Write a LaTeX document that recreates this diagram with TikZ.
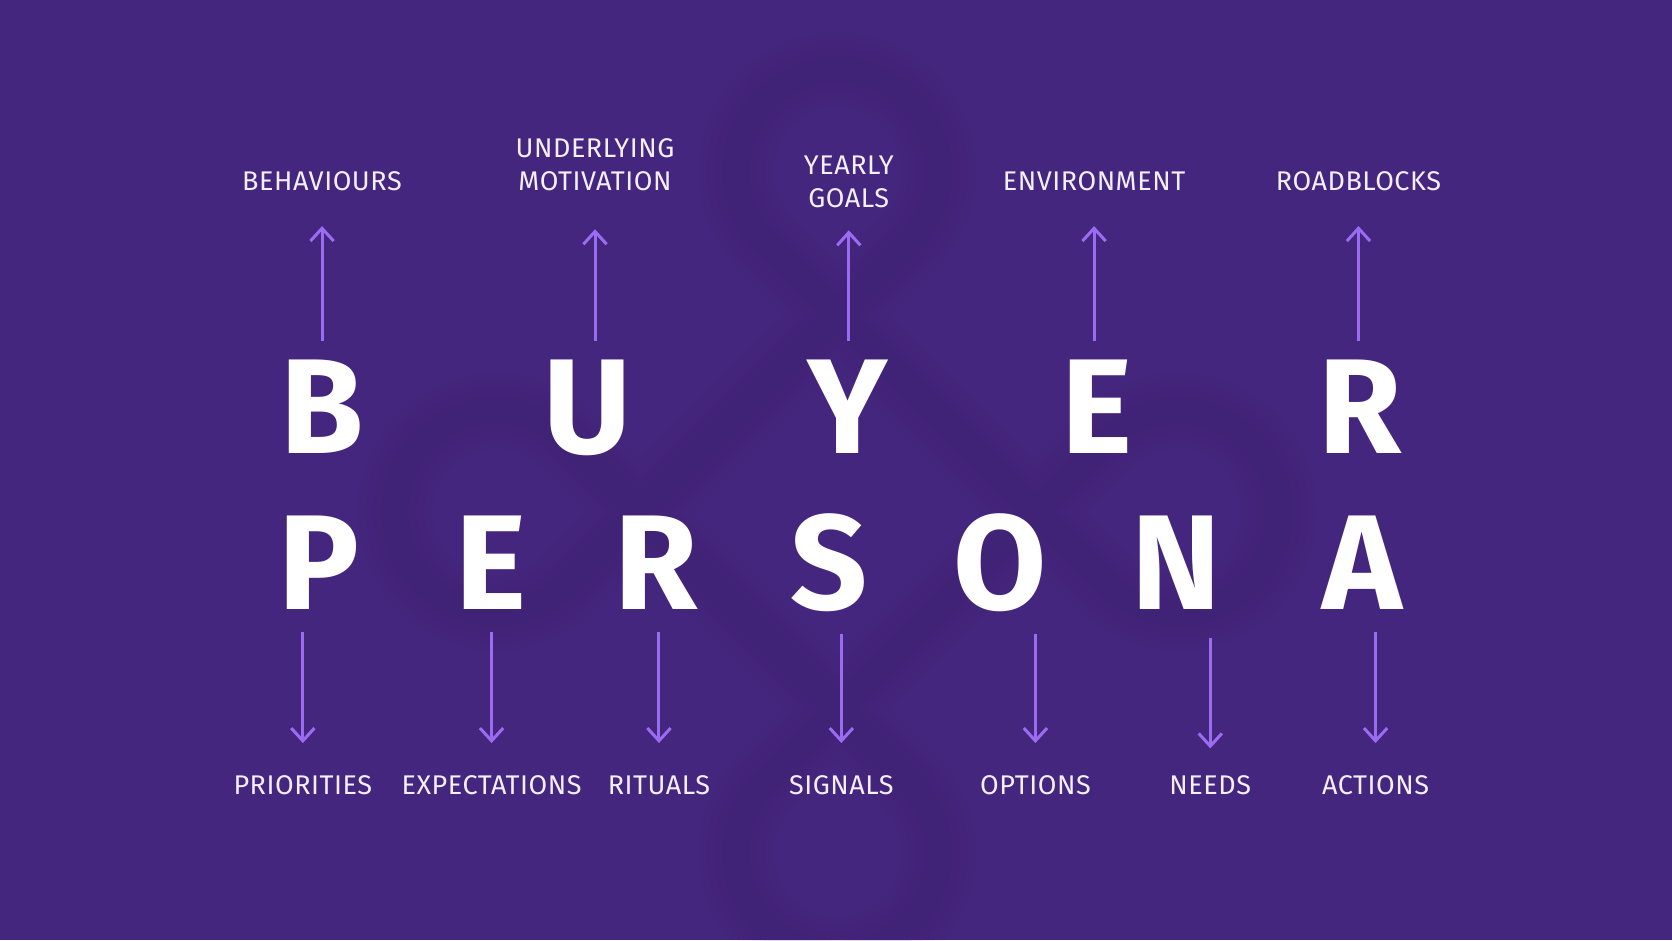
\documentclass[tikz,border=0pt]{standalone}
\usepackage{fontspec}
\setmainfont{Fira Sans}
\newfontfamily\keywordfont[LetterSpace=2]{Fira Sans}
\usetikzlibrary{arrows.meta}

\definecolor{bgpurple}{HTML}{45267E}
\definecolor{arrowlilac}{HTML}{9B6CF2}
\definecolor{keywordwhite}{HTML}{F4EFFF}
\definecolor{knotshade}{HTML}{2A1450}

\begin{document}
\begin{tikzpicture}[x=0.01cm,y=-0.01cm,
    letter/.style={text=white,font=\fontsize{36}{36}\selectfont\bfseries,inner sep=0pt,anchor=base},
    keyword/.style={text=keywordwhite,font=\keywordfont\fontsize{7.2}{8.8}\selectfont,align=center,inner sep=0pt,text depth=0pt,anchor=south},
    pointer/.style={draw=arrowlilac,line width=0.8pt,-{Straight Barb[length=3.4pt,width=6.2pt]}}]

\useasboundingbox (0,0) rectangle (1568,882);
\fill[bgpurple] (0,0) rectangle (1568,882);

% faint knot behind the letters
\begin{scope}
\clip (0,0) rectangle (1568,882);
\begin{scope}[shift={(785,480)},rotate=45,knotshade,line cap=round]
\foreach \w/\o in {0.7cm/0.03,0.55cm/0.035,0.4cm/0.04,0.25cm/0.045}
    \draw[line width=\w,opacity=\o]
        (-226,131) -- (226,131) (-226,-131) -- (226,-131)
        (131,-226) -- (131,226) (-131,-226) -- (-131,226)
        (131,226) arc[start angle=180,end angle=-90,radius=95]
        (-131,226) arc[start angle=0,end angle=270,radius=95]
        (131,-226) arc[start angle=180,end angle=450,radius=95]
        (-131,-226) arc[start angle=0,end angle=-270,radius=95];
\end{scope}
\end{scope}

% BUYER
\foreach \name/\ch/\x in {b1/B/302,u1/U/551,y1/Y/795,e1/E/1029,r1/R/1276}
    \node[letter] (\name) at (\x,425) {\ch};
% PERSONA
\foreach \name/\ch/\x in {p2/P/299,e2/E/460,r2/R/615,s2/S/778,o2/O/938,n2/N/1103,a2/A/1278}
    \node[letter] (\name) at (\x,572) {\ch};

\node[keyword] (behaviours) at (302,179) {BEHAVIOURS};
\node[keyword] (motivation) at (558,179) {UNDERLYING\\MOTIVATION};
\node[keyword] (goals) at (796,195) {YEARLY\\GOALS};
\node[keyword] (environment) at (1026,179) {ENVIRONMENT};
\node[keyword] (roadblocks) at (1274,179) {ROADBLOCKS};

\node[keyword] (priorities) at (284,746) {PRIORITIES};
\node[keyword] (expectations) at (461,746) {EXPECTATIONS};
\node[keyword] (rituals) at (618,746) {RITUALS};
\node[keyword] (signals) at (789,746) {SIGNALS};
\node[keyword] (options) at (971,746) {OPTIONS};
\node[keyword] (needs) at (1135,746) {NEEDS};
\node[keyword] (actions) at (1290,746) {ACTIONS};

\foreach \l/\t/\gap in {b1/behaviours/0.33cm,u1/motivation/0.36cm,y1/goals/0.21cm,
                        e1/environment/0.33cm,r1/roadblocks/0.33cm}
    \draw[pointer,shorten <=0.17cm,shorten >=\gap] (\l.north -| \t.south) -- (\t.south);

\foreach \l/\t in {p2/priorities,e2/expectations,r2/rituals,s2/signals,o2/options,a2/actions}
    \draw[pointer,shorten <=0.2cm,shorten >=0.3cm] (\l.south -| \t.north) -- (\t.north);
\draw[pointer,shorten <=0.26cm,shorten >=0.25cm] (n2.south -| needs.north) -- (needs.north);

\end{tikzpicture}
\end{document}
